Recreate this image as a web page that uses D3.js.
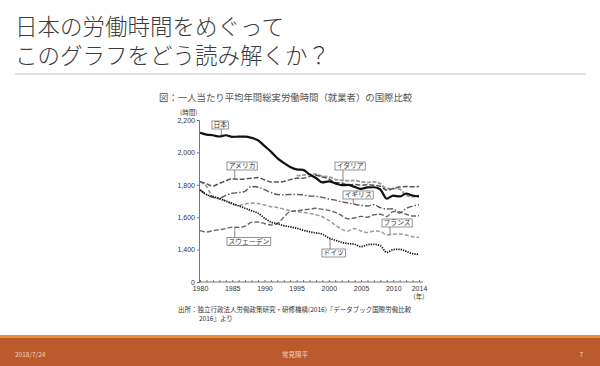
<!DOCTYPE html>
<html><head><meta charset="utf-8">
<script src="https://cdn.jsdelivr.net/npm/d3@7"></script>
<style>
html,body{margin:0;padding:0;background:#fff;}
svg{display:block;font-family:"Noto Sans CJK JP","Noto Sans",sans-serif;}
</style></head>
<body><svg id="c" width="600" height="366"></svg>
<script>
// ---------- data ----------
const years = [1980,1981,1982,1983,1984,1985,1986,1987,1988,1989,1990,1991,1992,1993,1994,1995,1996,1997,1998,1999,2000,2001,2002,2003,2004,2005,2006,2007,2008,2009,2010,2011,2012,2013,2014];
const japan   = [2121,2110,2106,2098,2106,2096,2097,2097,2090,2075,2040,2005,1965,1935,1910,1895,1892,1864,1842,1815,1821,1809,1798,1799,1787,1775,1784,1785,1771,1714,1733,1728,1745,1734,1729];
const usa     = [1820,1806,1792,1809,1824,1838,1834,1836,1840,1845,1831,1818,1817,1820,1832,1840,1840,1851,1859,1848,1836,1814,1811,1800,1802,1799,1800,1797,1791,1767,1777,1786,1789,1788,1789];
const uk      = [1770,1740,1722,1718,1735,1748,1752,1760,1790,1785,1770,1752,1740,1738,1740,1741,1737,1731,1729,1722,1712,1705,1695,1688,1680,1673,1669,1677,1659,1651,1652,1625,1654,1669,1677];
const france  = [1818,1790,1725,1712,1700,1680,1672,1682,1688,1684,1675,1665,1660,1650,1640,1635,1630,1624,1615,1603,1580,1552,1525,1515,1530,1515,1505,1515,1512,1490,1495,1497,1490,1480,1474];
const sweden  = [1517,1509,1517,1523,1530,1539,1537,1545,1568,1570,1561,1552,1560,1600,1635,1640,1645,1650,1655,1648,1642,1630,1610,1590,1595,1605,1600,1615,1618,1604,1635,1632,1618,1607,1609];
const germany = [1768,1740,1728,1715,1700,1685,1670,1655,1640,1625,1595,1570,1560,1548,1540,1532,1520,1510,1503,1495,1472,1458,1445,1437,1433,1418,1430,1433,1424,1383,1400,1402,1390,1375,1371];
const italyYears = [1995,1996,1997,1998,1999,2000,2001,2002,2003,2004,2005,2006,2007,2008,2009,2010,2011,2012,2013,2014];
const italy   = [1856,1860,1864,1866,1853,1850,1834,1827,1826,1826,1819,1814,1818,1807,1776,1777,1773,1734,1726,1734];
const yTickValues = [1200,1400,1600,1800,2000,2200];
const yTickLabels = ["0","1,400","1,600","1,800","2,000","2,200"];
const xTickValues = [1980,1985,1990,1995,2000,2005,2010,2014];
const seriesNames = ["日本","アメリカ","イタリア","イギリス","フランス","スウェーデン","ドイツ"];

// ---------- drawing ----------
const svg = d3.select("#c");
const x = d3.scaleLinear().domain([1980,2014]).range([200,419]);
const y = d3.scaleLinear().domain([1200,2200]).range([282,120]);

// title
svg.append("text").attr("x",15).attr("y",35).attr("font-size",22.5).attr("font-weight",300).attr("fill","#3c3c3c").text("日本の労働時間をめぐって");
svg.append("text").attr("x",15).attr("y",64).attr("font-size",22.5).attr("font-weight",300).attr("fill","#3c3c3c").text("このグラフをどう読み解くか？");
svg.append("line").attr("x1",15).attr("x2",586).attr("y1",74).attr("y2",74).attr("stroke","#c4c4c4").attr("stroke-width",1);

// chart caption
svg.append("text").attr("x",159).attr("y",101).attr("font-size",9.4).attr("fill","#555").text("図：一人当たり平均年間総実労働時間（就業者）の国際比較");
svg.append("text").attr("x",180).attr("y",115).attr("font-size",6.5).attr("fill","#333").text("(時間)");

// axes
const g = svg.append("g");
const yAxis = d3.axisLeft(y).tickValues(yTickValues).tickFormat((d,i)=>yTickLabels[i]).tickSize(2).tickPadding(2);
const ya = g.append("g").attr("transform","translate(199,0)").call(yAxis);
ya.selectAll("text").attr("font-size",7).attr("fill","#333").attr("font-family","'Liberation Sans',sans-serif");
ya.selectAll("line,path").attr("stroke","#555").attr("stroke-width",0.8);

const xAxisMinor = d3.axisTop(x).tickValues(years).tickFormat("").tickSize(2).tickSizeOuter(0);
const xm = g.append("g").attr("transform","translate(0,282)").call(xAxisMinor);
xm.select("path").attr("d","M199,0H423");
xm.selectAll("line,path").attr("stroke","#555").attr("stroke-width",0.8);
const xAxis = d3.axisBottom(x).tickValues(xTickValues).tickFormat(d3.format("d")).tickSize(0).tickPadding(4);
const xa = g.append("g").attr("transform","translate(0,282)").call(xAxis);
xa.select("path").remove();
xa.selectAll("text").attr("font-size",7).attr("fill","#333").attr("font-family","'Liberation Sans',sans-serif");
svg.append("text").attr("x",x(2014)).attr("y",299).attr("text-anchor","middle").attr("font-size",6.5).attr("fill","#333").text("(年)");

// lines
const series = [
  {name:"イタリア", xs:italyYears, ys:italy,   stroke:"#9a9a9a", w:1.8, dash:"4,1.5"},
  {name:"フランス", xs:years, ys:france,  stroke:"#9a9a9a", w:1.5, dash:"4,2"},
  {name:"スウェーデン", xs:years, ys:sweden, stroke:"#666", w:1.4, dash:"5,2"},
  {name:"イギリス", xs:years, ys:uk,      stroke:"#5a5a5a", w:1.4, dash:"6,2,1.5,2"},
  {name:"アメリカ", xs:years, ys:usa,     stroke:"#555", w:1.5, dash:"5,2"},
  {name:"ドイツ", xs:years, ys:germany,  stroke:"#111", w:1.7, dash:"1.3,1.1"},
  {name:"日本", xs:years, ys:japan,      stroke:"#111", w:2.2, dash:null}
];
const line = d3.line().x(d=>x(d[0])).y(d=>y(d[1])).curve(d3.curveMonotoneX);
series.forEach(s=>{
  const pts = s.xs.map((yr,i)=>[yr,s.ys[i]]);
  const p = svg.append("path").datum(pts).attr("d",line).attr("fill","none")
    .attr("stroke",s.stroke).attr("stroke-width",s.w).attr("stroke-linejoin","round");
  if (s.dash) p.attr("stroke-dasharray",s.dash);
});

// labels with pointers
function valueAt(s, yr){
  for (let i=0;i<s.xs.length-1;i++){
    if (yr>=s.xs[i] && yr<=s.xs[i+1]){
      const t=(yr-s.xs[i])/(s.xs[i+1]-s.xs[i]);
      return s.ys[i]+t*(s.ys[i+1]-s.ys[i]);
    }
  }
  return s.ys[s.ys.length-1];
}
const labelLayout = {
  "日本":      {bx:212, by:121, yr:1983.3, dir:"down"},
  "アメリカ":  {bx:227, by:162, yr:1985.4, dir:"down"},
  "イタリア":  {bx:335, by:162, yr:2002.2, dir:"down"},
  "イギリス":  {bx:343, by:191, yr:2003.8, dir:"down"},
  "フランス":  {bx:382, by:219, yr:2009.5, dir:"down"},
  "スウェーデン":{bx:227, by:237.5, yr:1985.4, dir:"up"},
  "ドイツ":    {bx:322, by:249, yr:2000.2, dir:"up"}
};
seriesNames.forEach(n=>{
  const s = series.find(d=>d.name===n);
  const L = labelLayout[n];
  const fs = 6.8, h = 8, w = n.length*fs+3;
  const px = x(L.yr), py = y(valueAt(s,L.yr));
  const edge = L.dir==="down" ? L.by+h : L.by;
  svg.append("line").attr("x1",px).attr("x2",px).attr("y1",edge).attr("y2",py)
    .attr("stroke","#555").attr("stroke-width",0.7);
  svg.append("rect").attr("x",L.bx).attr("y",L.by).attr("width",w).attr("height",h)
    .attr("fill","#fff").attr("stroke","#666").attr("stroke-width",0.7);
  svg.append("text").attr("x",L.bx+w/2).attr("y",L.by+h-1.6).attr("text-anchor","middle")
    .attr("font-size",fs).attr("fill","#333").text(n);
});

// source
svg.append("text").attr("x",178).attr("y",312).attr("font-size",6.5).attr("fill","#333")
  .text("出所：独立行政法人労働政策研究・研修機構(2016)『データブック国際労働比較");
svg.append("text").attr("x",199).attr("y",321).attr("font-size",6.5).attr("fill","#333").text("2016』より");

// footer
svg.append("rect").attr("x",0).attr("y",335).attr("width",600).attr("height",3).attr("fill","#e5922f");
svg.append("rect").attr("x",0).attr("y",338).attr("width",600).attr("height",28).attr("fill","#bb5a2c");
svg.append("text").attr("x",15).attr("y",357).attr("font-size",6.5).attr("fill","#f1d2c2").text("2018/7/24");
svg.append("text").attr("x",295).attr("y",357).attr("text-anchor","middle").attr("font-size",6.5).attr("fill","#f1d2c2").text("常見陽平");
svg.append("text").attr("x",583).attr("y",357).attr("text-anchor","end").attr("font-size",6.5).attr("fill","#f1d2c2").text("7");
</script></body></html>
